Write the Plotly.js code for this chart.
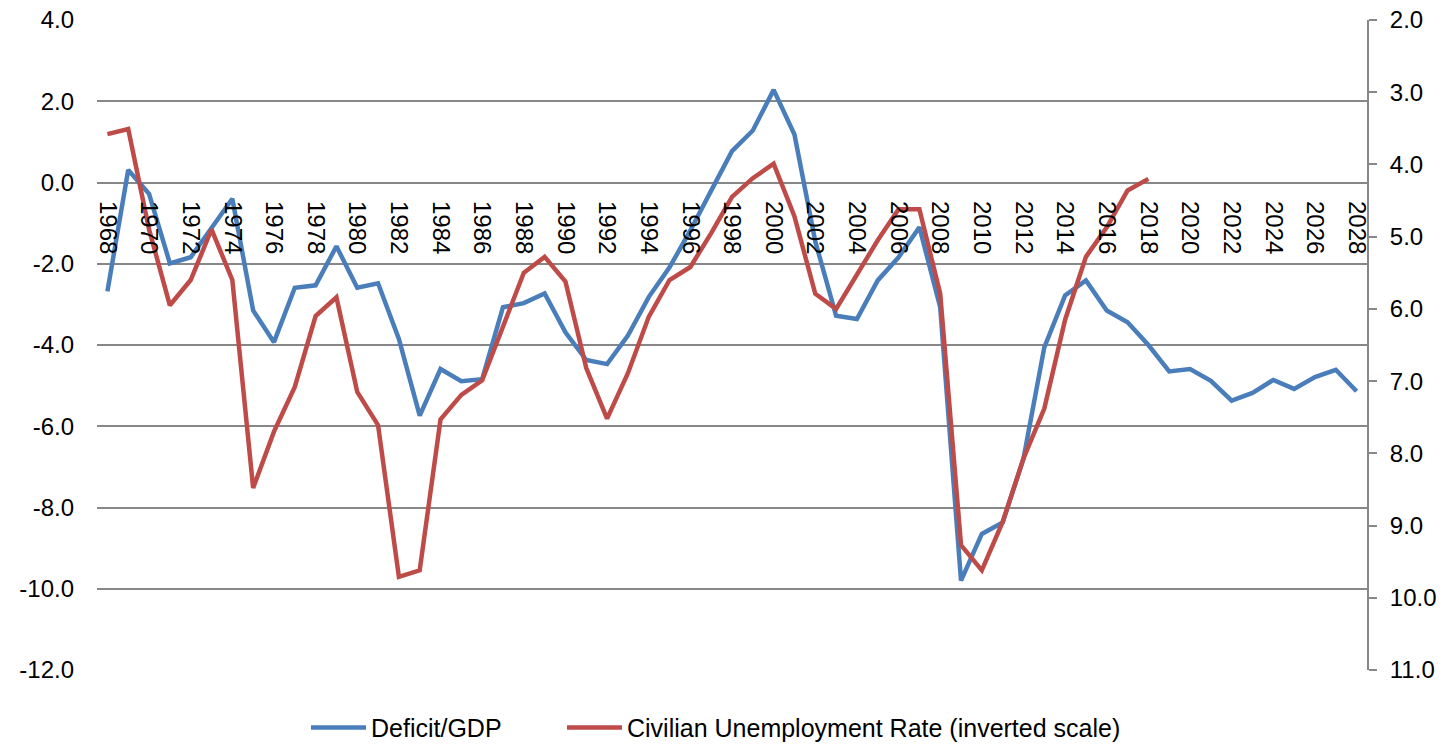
<!DOCTYPE html>
<html>
<head>
<meta charset="utf-8">
<script src="https://cdn.plot.ly/plotly-3.0.1.min.js"></script>
<style>
html,body{margin:0;padding:0;background:#fff;}
#chart{width:1449px;height:746px;}
</style>
</head>
<body>
<div id="chart"></div>
<script>
const deficitYears = [1968,1969,1970,1971,1972,1973,1974,1975,1976,1977,1978,1979,1980,1981,1982,1983,1984,1985,1986,1987,1988,1989,1990,1991,1992,1993,1994,1995,1996,1997,1998,1999,2000,2001,2002,2003,2004,2005,2006,2007,2008,2009,2010,2011,2012,2013,2014,2015,2016,2017,2018,2019,2020,2021,2022,2023,2024,2025,2026,2027,2028];
const deficitGDP = [-2.68,0.31,-0.28,-1.99,-1.84,-1.1,-0.4,-3.15,-3.93,-2.59,-2.53,-1.57,-2.59,-2.48,-3.85,-5.74,-4.59,-4.89,-4.84,-3.07,-2.97,-2.73,-3.69,-4.37,-4.47,-3.77,-2.82,-2.09,-1.18,-0.2,0.77,1.28,2.28,1.18,-1.45,-3.28,-3.36,-2.41,-1.84,-1.1,-3.07,-9.8,-8.65,-8.37,-6.8,-4.06,-2.78,-2.41,-3.15,-3.44,-4.0,-4.65,-4.59,-4.88,-5.37,-5.18,-4.86,-5.08,-4.79,-4.61,-5.14];
const unempYears = [1968,1969,1970,1971,1972,1973,1974,1975,1976,1977,1978,1979,1980,1981,1982,1983,1984,1985,1986,1987,1988,1989,1990,1991,1992,1993,1994,1995,1996,1997,1998,1999,2000,2001,2002,2003,2004,2005,2006,2007,2008,2009,2010,2011,2012,2013,2014,2015,2016,2017,2018];
const unemploymentRate = [3.58,3.51,4.9,5.95,5.6,4.9,5.6,8.48,7.7,7.08,6.1,5.84,7.15,7.61,9.71,9.62,7.53,7.19,6.99,6.25,5.5,5.28,5.62,6.82,7.52,6.89,6.11,5.6,5.42,4.95,4.45,4.19,3.99,4.72,5.79,6.0,5.51,5.05,4.62,4.62,5.79,9.27,9.62,8.95,8.07,7.38,6.15,5.28,4.87,4.36,4.2];
const seriesNames = ["Deficit/GDP","Civilian Unemployment Rate (inverted scale)"];
const xTickVals = [1968,1970,1972,1974,1976,1978,1980,1982,1984,1986,1988,1990,1992,1994,1996,1998,2000,2002,2004,2006,2008,2010,2012,2014,2016,2018,2020,2022,2024,2026,2028];
const leftTicks = [4,2,0,-2,-4,-6,-8,-10,-12];
const rightTicks = [2,3,4,5,6,7,8,9,10,11];

const FONT = "Liberation Sans, Arial, sans-serif";
const traces = [
  {x: deficitYears, y: deficitGDP, name: seriesNames[0], type: "scatter", mode: "lines",
   line: {color: "#4A7EBB", width: 4.5}, yaxis: "y", legend: "legend"},
  {x: unempYears, y: unemploymentRate, name: seriesNames[1], type: "scatter", mode: "lines",
   line: {color: "#BE4B48", width: 4.5}, yaxis: "y2", legend: "legend2"}
];
const legendCommon = {orientation: "h", xanchor: "left", y: -0.089, yanchor: "middle",
  font: {family: FONT, size: 25, color: "#000"}, itemwidth: 55, bgcolor: "rgba(0,0,0,0)"};
const layout = {
  width: 1449, height: 746,
  margin: {l: 97, r: 82, t: 20, b: 76, autoexpand: false},
  paper_bgcolor: "#fff", plot_bgcolor: "#fff",
  font: {family: FONT, size: 24, color: "#000"},
  showlegend: true,
  legend: Object.assign({}, legendCommon, {x: (312 - 97 - 6) / 1270}),
  legend2: Object.assign({}, legendCommon, {x: (568 - 97 - 6) / 1270}),
  xaxis: {
    range: [1967.5, 2028.5], tickvals: xTickVals, ticktext: xTickVals.map(String),
    tickangle: 90, anchor: "free", position: 0.7508,
    showgrid: false, zeroline: false, showline: false, ticks: "",
    ticklabelstandoff: 18,
    tickfont: {family: FONT, size: 24, color: "#000"}
  },
  yaxis: {
    range: [-12, 4], tickvals: leftTicks, ticktext: leftTicks.map(v => v.toFixed(1)),
    showgrid: true, gridcolor: "#878787", gridwidth: 2, zeroline: false,
    showline: false, ticks: "", ticklabelstandoff: 22,
    tickfont: {family: FONT, size: 24, color: "#000"}
  },
  yaxis2: {
    overlaying: "y", side: "right", range: [11, 2],
    tickvals: rightTicks, ticktext: rightTicks.map(v => v.toFixed(1)),
    showgrid: false, zeroline: false, showline: true, linecolor: "#878787", linewidth: 2,
    ticks: "outside", ticklen: 8, tickwidth: 2, tickcolor: "#878787",
    ticklabelstandoff: 8,
    tickfont: {family: FONT, size: 24, color: "#000"}
  }
};
Plotly.newPlot("chart", traces, layout, {displayModeBar: false, staticPlot: true});
</script>
</body>
</html>
